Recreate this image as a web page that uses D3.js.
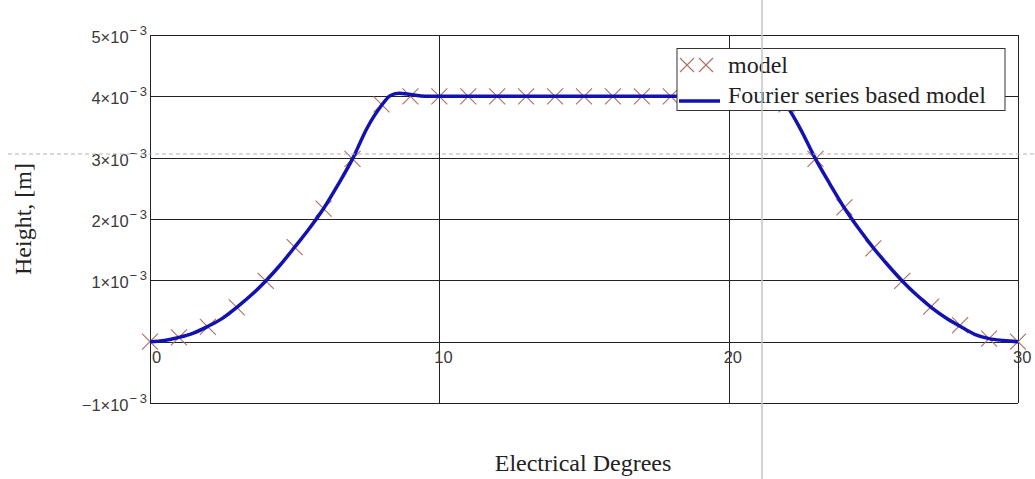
<!DOCTYPE html>
<html>
<head>
<meta charset="utf-8">
<script src="https://cdn.jsdelivr.net/npm/d3@7"></script>
<style>
  body { margin: 0; background: #fff; }
  svg { display: block; font-family: "Liberation Serif", "Times New Roman", serif; }
  .tick-lab { font-family: "Liberation Sans", Arial, sans-serif; }
</style>
</head>
<body>
<svg id="chart" width="1035" height="479"></svg>
<script>
// model points (deg, height in 1e-3 m)
var modelDeg = [0,1,2,3,4,5,6,7,8,9,10,11,12,13,14,15,16,17,18,19,20,21,22,23,24,25,26,27,28,29,30];
var modelHeight = [0,0.07,0.24,0.56,0.99,1.54,2.17,2.98,3.87,4,4,4,4,4,4,4,4,4,4,4,4,4,3.87,2.98,2.19,1.52,0.99,0.57,0.27,0.05,0];

// Fourier series curve
var fourierDeg = [0,0.5,1,1.5,2,2.5,3,3.5,4,4.5,5,5.5,6,6.5,7,7.5,8,8.3,8.6,9,9.5,12,15,18,20.5,21,21.4,21.7,22,22.5,23,23.5,24,24.5,25,25.5,26,26.5,27,27.5,28,28.5,29,29.5,30];
var fourierHeight = [0,0.02,0.07,0.14,0.25,0.38,0.56,0.76,0.99,1.25,1.54,1.84,2.17,2.56,2.98,3.48,3.85,4.01,4.05,4.03,4,4,4,4,4,4.03,4.05,4.01,3.85,3.45,2.98,2.57,2.18,1.84,1.53,1.25,0.99,0.76,0.56,0.39,0.25,0.12,0.05,0.02,0];

var xTicks = [0,10,20,30];
var yTicks = [-1,0,1,2,3,4,5];
var yTickLabels = ["\u22121\u00d710","","1\u00d710","2\u00d710","3\u00d710","4\u00d710","5\u00d710"];
var seriesNames = ["model","Fourier series based model"];

var pLeft = 150, pRight = 1018, pTop = 35, pBottom = 403;

var x = d3.scaleLinear().domain([0,30]).range([pLeft,pRight]);
var y = d3.scaleLinear().domain([-1,5]).range([pBottom,pTop]);

var svg = d3.select("#chart");

var lineCol = "#1212b0", markCol = "#ad6e62", gridCol = "#222";

// grid
svg.append("g")
    .attr("transform", `translate(${pLeft},0)`)
    .call(d3.axisLeft(y).tickValues(yTicks).tickSize(-(pRight-pLeft)).tickFormat(""))
    .call(g => g.select(".domain").remove())
    .selectAll("line").attr("stroke", gridCol).attr("shape-rendering","crispEdges");

svg.append("g")
    .attr("transform", `translate(0,${pBottom})`)
    .call(d3.axisBottom(x).tickValues(xTicks).tickSize(-(pBottom-pTop)).tickFormat(""))
    .call(g => g.select(".domain").remove())
    .selectAll("line").attr("stroke", gridCol).attr("shape-rendering","crispEdges");

// y tick labels with exponent
var yl = svg.append("g").selectAll("text")
  .data(yTicks.filter((d,i) => yTickLabels[i] != ""))
  .enter().append("text")
    .attr("class", "tick-lab")
    .attr("x", pLeft - 3)
    .attr("y", d => y(d) + 8)
    .attr("text-anchor", "end")
    .attr("fill", "#3a3a3a")
    .style("font-size", "16.5px");
yl.append("tspan").text(d => yTickLabels[yTicks.indexOf(d)]);
yl.append("tspan").attr("dy", -8).attr("dx", 1).style("font-size","13px").text("\u2212\u20093");

// x tick labels
svg.append("g").selectAll("text")
  .data(xTicks)
  .enter().append("text")
    .attr("class", "tick-lab")
    .attr("x", d => x(d) + (d == 0 ? 2 : -5))
    .attr("y", 363)
    .attr("fill", "#3a3a3a")
    .style("font-size", "16.5px")
    .text(d => d);

// axis titles
svg.append("text")
    .attr("transform", `translate(31,${(pTop+pBottom)/2})`+" rotate(-90)")
    .attr("text-anchor", "middle")
    .attr("fill", "#222")
    .style("font-size", "24px")
    .text("Height, [m]");

svg.append("text")
    .attr("x", (pLeft+pRight)/2 - 1)
    .attr("y", 471)
    .attr("text-anchor", "middle")
    .attr("fill", "#222")
    .style("font-size", "24px")
    .text("Electrical Degrees");

// model markers
function cross(sel, s) {
  sel.append("path")
    .attr("d", `M${-s},${-s}L${s},${s}M${-s},${s}L${s},${-s}`)
    .attr("stroke", markCol)
    .attr("stroke-width", 1.1)
    .attr("fill", "none");
}
svg.append("g").selectAll("g")
  .data(modelDeg)
  .enter().append("g")
    .attr("transform", (d,i) => `translate(${x(d)},${y(modelHeight[i])})`)
    .call(cross, 8);

// Fourier curve
var line = d3.line()
    .x((d,i) => x(d))
    .y((d,i) => y(fourierHeight[i]))
    .curve(d3.curveMonotoneX);

svg.append("path")
    .datum(fourierDeg)
    .attr("d", line)
    .attr("fill", "none")
    .attr("stroke", lineCol)
    .attr("stroke-width", 3.5)
    .attr("stroke-linejoin", "round");

// legend
var lg = svg.append("g");
lg.append("rect")
    .attr("x", 677).attr("y", 48.5).attr("width", 328).attr("height", 62)
    .attr("fill", "#fff").attr("stroke", "#333").attr("stroke-width", 1);
lg.append("g").attr("transform", "translate(687,65)").call(cross, 7);
lg.append("g").attr("transform", "translate(706,65)").call(cross, 7);
lg.append("line")
    .attr("x1", 679).attr("x2", 720).attr("y1", 101).attr("y2", 101)
    .attr("stroke", lineCol).attr("stroke-width", 3.5);
lg.selectAll("text.leg")
  .data(seriesNames)
  .enter().append("text")
    .attr("class", "leg")
    .attr("x", 728)
    .attr("y", (d,i) => 73 + i*30)
    .attr("fill", "#222")
    .style("font-size", "24px")
    .text(d => d);

// crosshair left on screen
svg.append("line")
    .attr("x1", 762).attr("x2", 762).attr("y1", 0).attr("y2", 479)
    .attr("stroke", "#c4c4c4").attr("stroke-width", 1.5);
svg.append("line")
    .attr("x1", 8).attr("x2", 1035).attr("y1", 154).attr("y2", 154)
    .attr("stroke", "#b4b4b4").attr("stroke-width", 1).attr("stroke-dasharray", "4,3");
</script>
</body>
</html>
